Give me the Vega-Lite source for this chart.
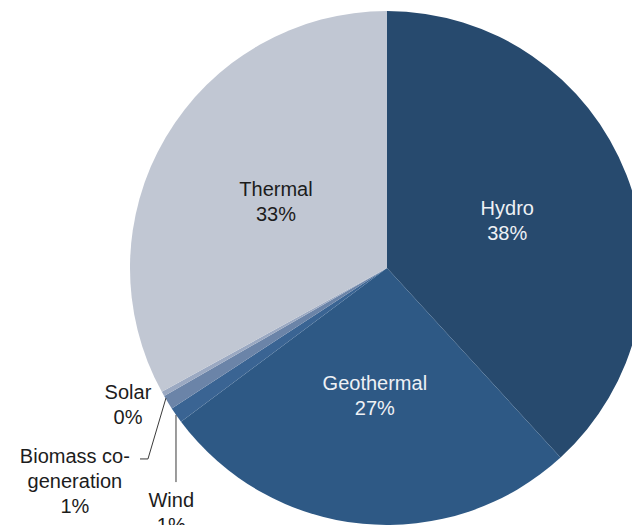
{
  "$schema": "https://vega.github.io/schema/vega-lite/v6.json",
  "width": 632,
  "height": 525,
  "autosize": {"type": "none"},
  "padding": 0,
  "background": "white",
  "config": {"view": {"stroke": null}, "text": {"font": "Liberation Sans", "fontSize": 20}},
  "datasets": {
    "shares": [
      {"source": "Hydro", "share": 38.2, "idx": 1, "label": "Hydro\n38%"},
      {"source": "Geothermal", "share": 26.6, "idx": 2, "label": "Geothermal\n27%"},
      {"source": "Wind", "share": 1.0, "idx": 3, "label": "Wind\n1%"},
      {"source": "Biomass co-generation", "share": 0.9, "idx": 4, "label": "Biomass co-\ngeneration\n1%"},
      {"source": "Solar", "share": 0.3, "idx": 5, "label": "Solar\n0%"},
      {"source": "Thermal", "share": 33.0, "idx": 6, "label": "Thermal\n33%"}
    ],
    "leaders": [
      {"leader": "Wind", "x1": -0.821, "y1": -0.572, "x2": -0.821, "y2": -0.833},
      {"leader": "Biomass", "x1": -0.86, "y1": -0.506, "x2": -0.93, "y2": -0.743},
      {"leader": "Biomass", "x1": -0.93, "y1": -0.743, "x2": -0.961, "y2": -0.743}
    ]
  },
  "layer": [
    {
      "data": {"name": "shares"},
      "mark": {"type": "arc", "radius": 257},
      "encoding": {
        "x": {"datum": 0, "type": "quantitative", "scale": {"domain": [-1.5058, 0.9533], "nice": false, "zero": false}, "axis": null},
        "y": {"datum": 0, "type": "quantitative", "scale": {"domain": [-1.0, 1.0428], "nice": false, "zero": false}, "axis": null},
        "theta": {"field": "share", "type": "quantitative", "stack": true},
        "order": {"field": "idx", "type": "quantitative"},
        "color": {
          "field": "source", "type": "nominal", "legend": null,
          "scale": {
            "domain": ["Hydro", "Geothermal", "Wind", "Biomass co-generation", "Solar", "Thermal"],
            "range": ["#274a6e", "#2e5985", "#3a6493", "#6b84a8", "#9ba9c2", "#c1c7d3"]
          }
        }
      }
    },
    {
      "data": {"name": "shares"},
      "mark": {"type": "text", "radius": 129, "dy": -12, "align": "center", "baseline": "middle", "lineBreak": "\n", "lineHeight": 25, "fill": "#eef1f5"},
      "encoding": {
        "x": {"datum": 0, "type": "quantitative"},
        "y": {"datum": 0, "type": "quantitative"},
        "theta": {"field": "share", "type": "quantitative", "stack": true},
        "order": {"field": "idx", "type": "quantitative"},
        "detail": {"field": "source", "type": "nominal"},
        "text": {"condition": {"test": "datum.source === 'Hydro' || datum.source === 'Geothermal'", "field": "label"}, "value": ""}
      }
    },
    {
      "data": {"name": "shares"},
      "mark": {"type": "text", "radius": 129, "dy": -12, "align": "center", "baseline": "middle", "lineBreak": "\n", "lineHeight": 25, "fill": "#1c1c1c"},
      "encoding": {
        "x": {"datum": 0, "type": "quantitative"},
        "y": {"datum": 0, "type": "quantitative"},
        "theta": {"field": "share", "type": "quantitative", "stack": true},
        "order": {"field": "idx", "type": "quantitative"},
        "detail": {"field": "source", "type": "nominal"},
        "text": {"condition": {"test": "datum.source === 'Thermal'", "field": "label"}, "value": ""}
      }
    },
    {
      "data": {"name": "shares"},
      "mark": {"type": "text", "radius": 257, "dx": -35, "dy": -1, "align": "center", "baseline": "middle", "lineBreak": "\n", "lineHeight": 25, "fill": "#1c1c1c"},
      "encoding": {
        "x": {"datum": 0, "type": "quantitative"},
        "y": {"datum": 0, "type": "quantitative"},
        "theta": {"field": "share", "type": "quantitative", "stack": true},
        "order": {"field": "idx", "type": "quantitative"},
        "detail": {"field": "source", "type": "nominal"},
        "text": {"condition": {"test": "datum.source === 'Solar'", "field": "label"}, "value": ""}
      }
    },
    {
      "data": {"name": "shares"},
      "mark": {"type": "text", "radius": 257, "dx": -93, "dy": 55, "align": "center", "baseline": "middle", "lineBreak": "\n", "lineHeight": 25, "fill": "#1c1c1c"},
      "encoding": {
        "x": {"datum": 0, "type": "quantitative"},
        "y": {"datum": 0, "type": "quantitative"},
        "theta": {"field": "share", "type": "quantitative", "stack": true},
        "order": {"field": "idx", "type": "quantitative"},
        "detail": {"field": "source", "type": "nominal"},
        "text": {"condition": {"test": "datum.source === 'Biomass co-generation'", "field": "label"}, "value": ""}
      }
    },
    {
      "data": {"name": "shares"},
      "mark": {"type": "text", "radius": 257, "dx": -5, "dy": 86, "align": "center", "baseline": "middle", "lineBreak": "\n", "lineHeight": 25, "fill": "#1c1c1c"},
      "encoding": {
        "x": {"datum": 0, "type": "quantitative"},
        "y": {"datum": 0, "type": "quantitative"},
        "theta": {"field": "share", "type": "quantitative", "stack": true},
        "order": {"field": "idx", "type": "quantitative"},
        "detail": {"field": "source", "type": "nominal"},
        "text": {"condition": {"test": "datum.source === 'Wind'", "field": "label"}, "value": ""}
      }
    },
    {
      "data": {"name": "leaders"},
      "mark": {"type": "rule", "stroke": "#3a3a3a", "strokeWidth": 1},
      "encoding": {
        "x": {"field": "x1", "type": "quantitative"},
        "y": {"field": "y1", "type": "quantitative"},
        "x2": {"field": "x2"},
        "y2": {"field": "y2"}
      }
    }
  ]
}
